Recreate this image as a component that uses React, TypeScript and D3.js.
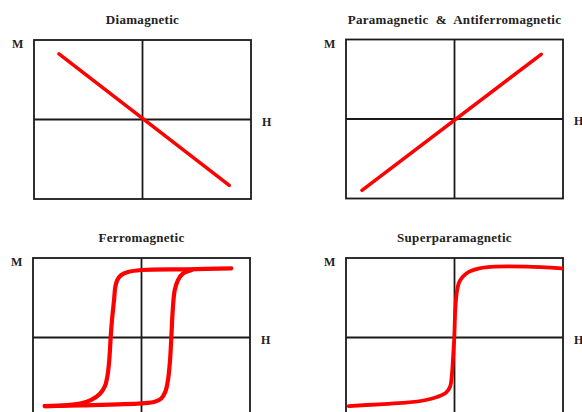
import React from 'react'
import * as d3 from 'd3'

const titles = [
  'Diamagnetic',
  'Paramagnetic  &  Antiferromagnetic',
  'Ferromagnetic',
  'Superparamagnetic',
]

// (H, M) pairs, both axes normalised to [-1, 1]
const diamagnetic: [number, number][] = [
  [-0.77, 0.825],
  [0.8, -0.83],
]
const paramagnetic: [number, number][] = [
  [-0.853, -0.897],
  [0.799, 0.814],
]
// descending branch of the hysteresis loop (from +sat to -sat)
const ferroDown: [number, number][] = [
  [0.828, 0.87],
  [0.429, 0.858],
  [-0.002, 0.849],
  [-0.124, 0.824],
  [-0.186, 0.786],
  [-0.223, 0.723],
  [-0.241, 0.639],
  [-0.253, 0.472],
  [-0.272, 0.22],
  [-0.284, 0.003],
  [-0.297, -0.283],
  [-0.315, -0.493],
  [-0.339, -0.619],
  [-0.385, -0.711],
  [-0.463, -0.786],
  [-0.555, -0.828],
  [-0.708, -0.853],
  [-0.892, -0.862],
]
// ascending branch
const ferroUp: [number, number][] = [
  [-0.892, -0.862],
  [-0.555, -0.853],
  [-0.002, -0.828],
  [0.122, -0.808],
  [0.182, -0.767],
  [0.219, -0.684],
  [0.244, -0.537],
  [0.263, -0.286],
  [0.275, 0.003],
  [0.288, 0.346],
  [0.306, 0.595],
  [0.336, 0.721],
  [0.382, 0.805],
  [0.459, 0.847],
]
const superpara: [number, number][] = [
  [-0.975, -0.862],
  [-0.693, -0.84],
  [-0.447, -0.82],
  [-0.263, -0.786],
  [-0.155, -0.745],
  [-0.078, -0.694],
  [-0.041, -0.619],
  [-0.023, -0.45],
  [-0.011, -0.199],
  [-0.002, 0.003],
  [0.007, 0.346],
  [0.02, 0.556],
  [0.039, 0.682],
  [0.076, 0.765],
  [0.136, 0.828],
  [0.229, 0.87],
  [0.376, 0.891],
  [0.665, 0.891],
  [0.988, 0.87],
]

const curves = [[diamagnetic], [paramagnetic], [ferroDown, ferroUp], [superpara]]

const boxW = 217
const boxH = 159
const boxes = [
  { x: 34, y: 40 },
  { x: 346, y: 39.5 },
  { x: 33, y: 258 },
  { x: 346, y: 258 },
]
const strokes = [3.5, 3.5, 4.2, 3.8]

const font = '"Liberation Serif", "Times New Roman", serif'

function Panel({ i }: { i: number }) {
  const b = boxes[i]
  const x = d3.scaleLinear().domain([-1, 1]).range([b.x, b.x + boxW])
  const y = d3.scaleLinear().domain([-1, 1]).range([b.y + boxH, b.y])
  const line = d3
    .line<[number, number]>()
    .x((d) => x(d[0]))
    .y((d) => y(d[1]))
    .curve(d3.curveCatmullRom.alpha(0.5))
  const cx = x(0)
  const cy = y(0)
  return (
    <g>
      <text
        x={cx}
        y={b.y - 16}
        textAnchor="middle"
        fontFamily={font}
        fontWeight="bold"
        fontSize={13}
        letterSpacing={0.3}
        style={{ whiteSpace: 'pre' }}
        fill="#222"
      >
        {titles[i]}
      </text>
      <text x={b.x - 22} y={b.y + 8} fontFamily={font} fontWeight="bold" fontSize={12} fill="#222">
        M
      </text>
      <text x={b.x + boxW + 11} y={cy + 6} fontFamily={font} fontWeight="bold" fontSize={12} fill="#222">
        H
      </text>
      <rect x={b.x} y={b.y} width={boxW} height={boxH} fill="none" stroke="#1a1a1a" strokeWidth={1.8} />
      <line x1={cx} x2={cx} y1={b.y} y2={b.y + boxH} stroke="#1a1a1a" strokeWidth={1.8} />
      <line x1={b.x} x2={b.x + boxW} y1={cy} y2={cy} stroke="#1a1a1a" strokeWidth={1.8} />
      {curves[i].map((c, k) => (
        <path
          key={k}
          d={line(c) ?? ''}
          fill="none"
          stroke="#ff0000"
          strokeWidth={strokes[i]}
          strokeLinecap="round"
          strokeLinejoin="round"
        />
      ))}
    </g>
  )
}

export default function App() {
  return (
    <svg
      width={582}
      height={412}
      style={{ position: 'absolute', left: 0, top: 0, background: '#fff' }}
    >
      {titles.map((_, i) => (
        <Panel key={i} i={i} />
      ))}
    </svg>
  )
}
